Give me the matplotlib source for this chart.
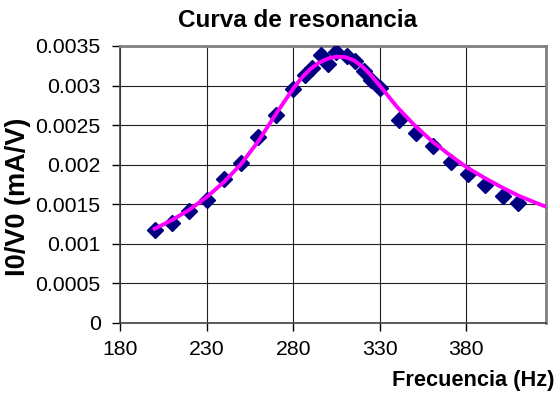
import matplotlib
matplotlib.use("Agg")
import matplotlib.pyplot as plt

plt.rcParams['font.family'] = ['Liberation Sans', 'DejaVu Sans']

# measured points (Hz, mA/V)
freq = [200, 210, 220, 230, 240, 250, 260, 270, 280, 287, 291, 296,
        300, 305, 311, 316, 321, 325, 330, 341, 351, 361, 371, 381,
        391, 401, 410]
ratio = [0.00117, 0.00126, 0.00142, 0.00155, 0.00182, 0.00202, 0.00235,
         0.00263, 0.00296, 0.00313, 0.00322, 0.00338, 0.00327, 0.00342,
         0.00337, 0.00331, 0.00318, 0.00307, 0.00297, 0.00257, 0.00240,
         0.00223, 0.00204, 0.00188, 0.00174, 0.00161, 0.00151]

# fitted curve
fit_freq = [200, 210, 220, 230, 240, 250, 260, 270, 280, 285, 290, 295,
            300, 305, 310, 315, 320, 325, 330, 340, 350, 360, 370, 380,
            390, 400, 410, 420, 426]
fit_ratio = [0.00119, 0.00130, 0.00143, 0.00159, 0.00178, 0.00201,
             0.00230, 0.00264, 0.00296, 0.00310, 0.00321, 0.00329,
             0.00334, 0.003365, 0.00336, 0.00332, 0.00324, 0.00313,
             0.00300, 0.00273, 0.00250, 0.00230, 0.00213, 0.00197,
             0.00184, 0.00172, 0.00161, 0.00152, 0.00147]

xticks = [180, 230, 280, 330, 380]
yticks = [0, 0.0005, 0.001, 0.0015, 0.002, 0.0025, 0.003, 0.0035]
ytick_labels = ['0', '0.0005', '0.001', '0.0015', '0.002', '0.0025', '0.003', '0.0035']

fig = plt.figure(figsize=(5.58, 3.95), dpi=100)
ax = fig.add_axes([0.215, 0.1823, 0.7634, 0.7013])

ax.plot(freq, ratio, linestyle='none', marker='D', markersize=8.5,
        color='#000080', zorder=3)
ax.plot(fit_freq, fit_ratio, color='#FF00FF', linewidth=2.8, zorder=4)

ax.set_xlim(180, 426)
ax.set_ylim(0, 0.0035)
ax.set_xticks(xticks)
ax.set_yticks(yticks)
ax.set_yticklabels(ytick_labels)
ax.tick_params(labelsize=15.3, direction='out', length=5.5, width=1, color='black')
ax.tick_params(axis='x', pad=7)
ax.tick_params(axis='y', pad=8.5)

ax.grid(True, color='#202020', linewidth=0.8)
ax.set_axisbelow(True)
for side in ['top', 'right']:
    ax.spines[side].set_color('#808080')
    ax.spines[side].set_linewidth(2)
for side in ['left', 'bottom']:
    ax.spines[side].set_color('#404040')
    ax.spines[side].set_linewidth(1.2)

fig.text(0.533, 0.949, 'Curva de resonancia', fontsize=17.5, fontweight='bold',
         ha='center', va='center')
ax.set_xlabel('Frecuencia (Hz)', fontsize=15.7, fontweight='bold', ha='right', va='center')
ax.xaxis.set_label_coords(1.021, -0.206)
ax.set_ylabel('I0/V0 (mA/V)', fontsize=19.5, fontweight='bold', va='center')
ax.yaxis.set_label_coords(-0.239, 0.457)

fig.savefig('out.png', dpi=100)
